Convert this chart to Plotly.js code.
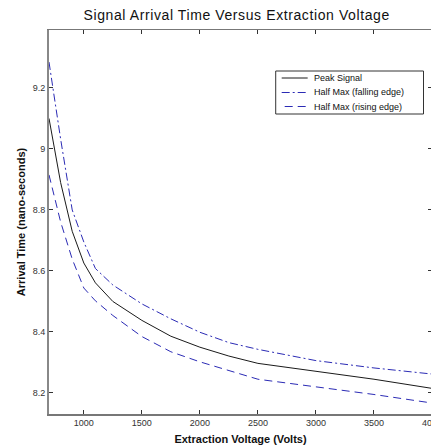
<!DOCTYPE html>
<html>
<head>
<meta charset="utf-8">
<script src="https://cdn.plot.ly/plotly-3.0.1.min.js"></script>
<style>
html,body{margin:0;padding:0;overflow:hidden;background:#fff}
.gtitle{letter-spacing:0.6px}
</style>
</head>
<body>
<div id="chart"></div>
<script>
// Extraction voltage (Volts)
const voltage = [700, 750, 800, 900, 1000, 1100, 1250, 1500, 1750, 2000, 2250, 2500, 3000, 3500, 4000];
// Arrival time (ns)
const peakSignal = [9.100, 9.000, 8.890, 8.730, 8.626, 8.561, 8.500, 8.438, 8.386, 8.350, 8.321, 8.297, 8.272, 8.245, 8.215];
const halfMaxFalling = [9.285, 9.157, 9.033, 8.800, 8.695, 8.608, 8.554, 8.492, 8.443, 8.399, 8.365, 8.343, 8.306, 8.282, 8.262];
const halfMaxRising = [8.915, 8.836, 8.761, 8.639, 8.544, 8.502, 8.454, 8.385, 8.335, 8.302, 8.273, 8.245, 8.220, 8.195, 8.167];

const seriesNames = ['Peak Signal', 'Half Max (falling edge)', 'Half Max (rising edge)'];
const xTickVals = [1000, 1500, 2000, 2500, 3000, 3500, 4000];
const yTickVals = [8.2, 8.4, 8.6, 8.8, 9.0, 9.2];
const yTickText = ['8.2', '8.4', '8.6', '8.8', '9', '9.2'];

const FONT = 'Liberation Sans, Arial, Helvetica, sans-serif';
const BLUE = '#2b2bb5';
const W = 434, H = 447;
const M = {l: 49, r: 1.5, t: 30, b: 33};
const styles = [
  {color: '#1a1a1a', width: 1, dash: 'solid'},
  {color: BLUE, width: 1, dash: '8px,3px,2px,3px'},
  {color: BLUE, width: 1, dash: '8px,5px'}
];
const seriesY = [peakSignal, halfMaxFalling, halfMaxRising];

const traces = seriesY.map((ys, i) => ({
  x: voltage, y: ys, name: seriesNames[i], mode: 'lines',
  line: styles[i], showlegend: false
}));

// pixel -> paper helpers for the boxed legend
const pw = W - M.l - M.r, ph = H - M.t - M.b;
const px = v => (v - M.l) / pw;
const py = v => (H - M.b - v) / ph;

const shapes = [{type: 'rect', xref: 'paper', yref: 'paper',
  x0: px(276), x1: px(424), y0: py(114), y1: py(71),
  line: {color: '#333', width: 1}, fillcolor: '#fff', layer: 'above'}];
const annotations = [];
const rowY = [78, 92.5, 106.5];
const lineStart = [282, 282, 285];
seriesNames.forEach((n, i) => {
  shapes.push({type: 'line', xref: 'paper', yref: 'paper',
    x0: px(lineStart[i]), x1: px(308), y0: py(rowY[i]), y1: py(rowY[i]),
    line: styles[i], layer: 'above'});
  annotations.push({xref: 'paper', yref: 'paper', x: px(312), y: py(rowY[i]),
    xanchor: 'left', yanchor: 'middle', showarrow: false, text: n,
    font: {family: FONT, size: 9, color: '#111'}});
});

const layout = {
  width: W, height: H,
  margin: {l: M.l, r: M.r, t: M.t, b: M.b, pad: 0},
  paper_bgcolor: '#fff', plot_bgcolor: '#fff',
  font: {family: FONT, color: '#222', size: 9},
  title: {text: 'Signal Arrival Time Versus Extraction Voltage',
          font: {family: FONT, size: 14, color: '#111'},
          xref: 'paper', x: 0.49, xanchor: 'center',
          yref: 'container', y: 1 - 15/447, yanchor: 'middle'},
  showlegend: false,
  shapes: shapes,
  annotations: annotations,
  xaxis: {range: [700, 4000], tickvals: xTickVals, ticks: 'inside', ticklen: 4,
          tickcolor: '#333', showline: true, linecolor: '#777', linewidth: 1.5,
          mirror: 'ticks', showgrid: false, zeroline: false,
          ticklabeloverflow: 'allow',
          tickfont: {family: FONT, size: 9, color: '#333'},
          title: {text: '<b>Extraction Voltage (Volts)</b>', standoff: 8,
                  font: {family: FONT, size: 11, color: '#111'}}},
  yaxis: {range: [8.131, 9.390], tickvals: yTickVals, ticktext: yTickText,
          ticks: 'inside', ticklen: 4, tickcolor: '#333', showline: true,
          linecolor: '#888', linewidth: 2, mirror: 'ticks', showgrid: false,
          zeroline: false, tickfont: {family: FONT, size: 9, color: '#333'},
          title: {text: '<b>Arrival Time (nano-seconds)</b>', standoff: 5,
                  font: {family: FONT, size: 11, color: '#111'}}}
};

Plotly.newPlot('chart', traces, layout, {staticPlot: true, displayModeBar: false});
</script>
</body>
</html>
